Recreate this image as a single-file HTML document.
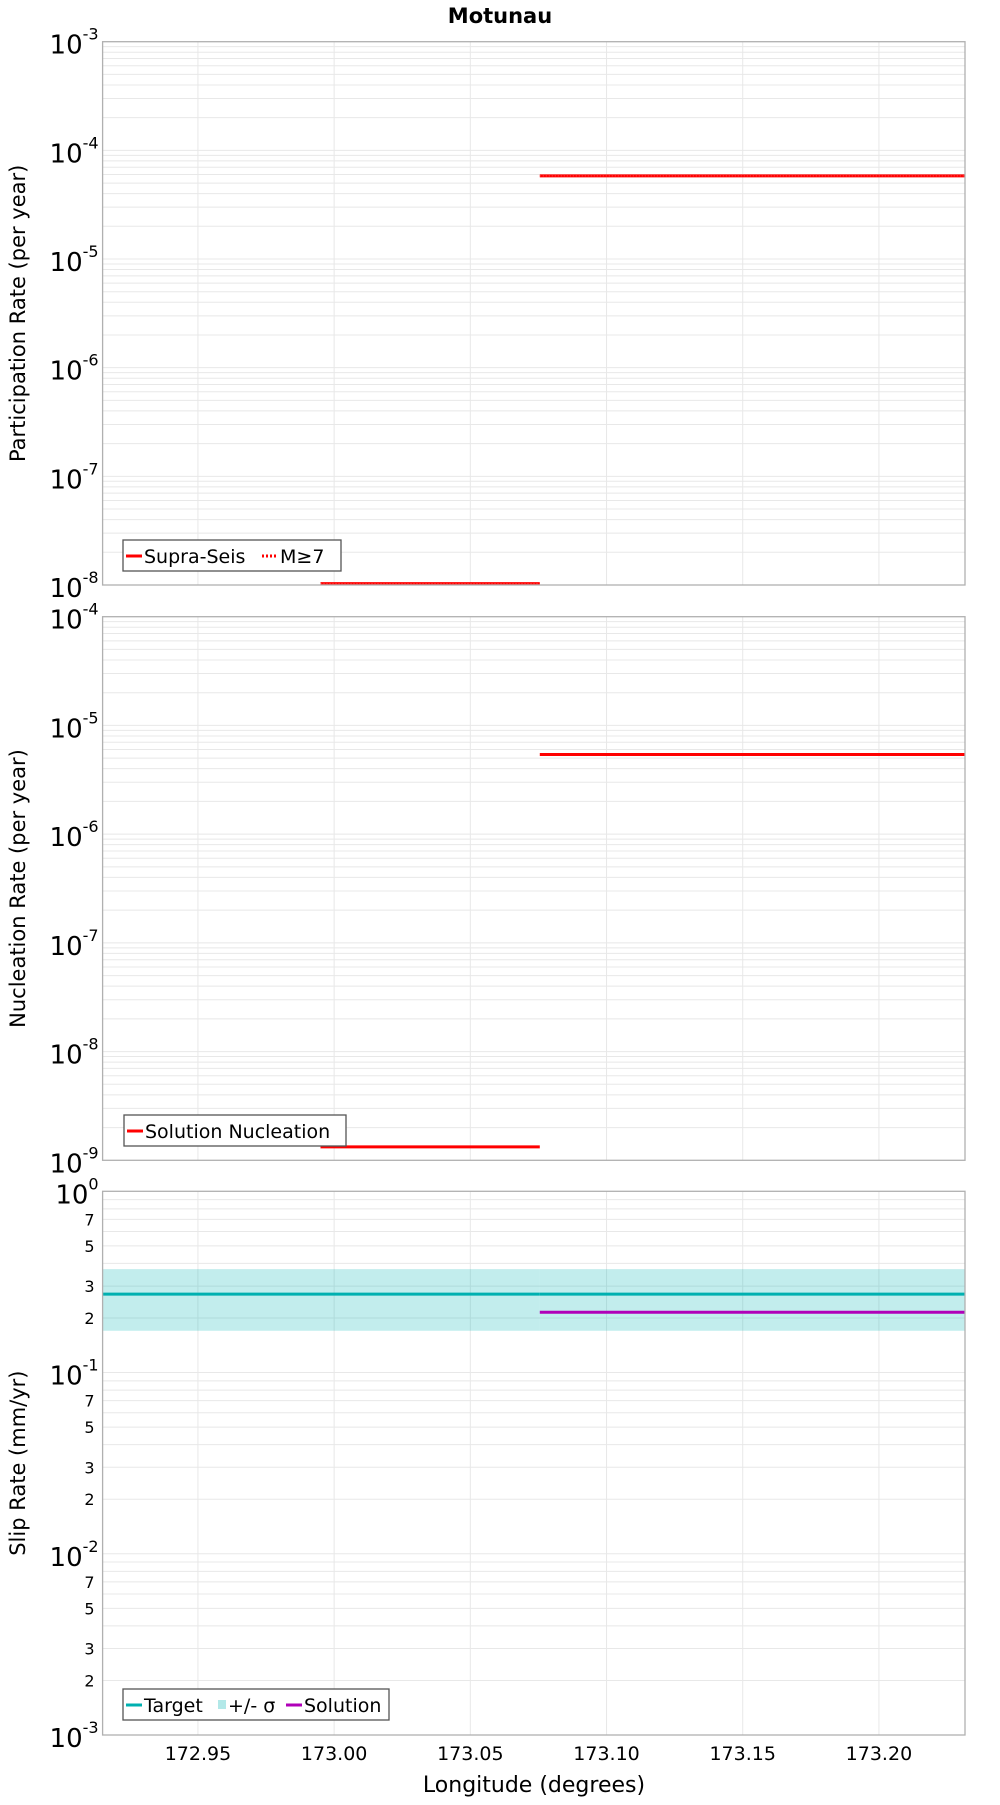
<!DOCTYPE html>
<html><head><meta charset="utf-8"><style>
body{margin:0;background:#fff;width:1000px;height:1800px;overflow:hidden}
svg{font-family:"DejaVu Sans","Liberation Sans",sans-serif}
</style></head><body>
<svg id="c" width="1000" height="1800" viewBox="0 0 1000 1800" xmlns="http://www.w3.org/2000/svg">
<text x="500" y="23" text-anchor="middle" font-size="21" font-weight="bold">Motunau</text>
</svg>
<script>
const xTicks=[172.95,173.00,173.05,173.10,173.15,173.20];
const xTickLabels=["172.95","173.00","173.05","173.10","173.15","173.20"];
const segStarts=[172.995,173.0755];
const segEnds=[173.0755,173.2316];
const participation=[1.03e-8,5.82e-5];
const nucleation=[1.33e-9,5.4e-6];
const slipTarget=[0.271,0.271];
const slipUpper=[0.372,0.372];
const slipLower=[0.170,0.170];
const slipSolution=[null,0.215];
const xMin=172.915,xMax=173.2316;
const L=102.6,R=965;
const NS='http://www.w3.org/2000/svg';
const svg=document.getElementById('c');
function el(t,a,p){const e=document.createElementNS(NS,t);for(const k in a)e.setAttribute(k,a[k]);(p||svg).appendChild(e);return e;}
function X(v){return L+(v-xMin)/(xMax-xMin)*(R-L);}
const panels=[
 {top:41.7,bot:585,hi:-3,lo:-8,title:'Participation Rate (per year)',name:'participation'},
 {top:616.7,bot:1160.3,hi:-4,lo:-9,title:'Nucleation Rate (per year)',name:'nucleation'},
 {top:1191.3,bot:1735,hi:0,lo:-3,title:'Slip Rate (mm/yr)',name:'slip'}];
function mkY(p){return v=>p.top+(p.hi-Math.log10(v))/(p.hi-p.lo)*(p.bot-p.top);}
panels.forEach((p,pi)=>{
 const Y=mkY(p);
 const g=el('g',{});
 
 
 for(let d=p.lo;d<p.hi;d++){for(let m=1;m<10;m++){const v=m*Math.pow(10,d);if(m>1||d>p.lo){const y=Y(v);const ln=el('line',{x1:L,x2:R,y1:y,y2:y,stroke:'#e8e8e8','stroke-width':1},g);}}}
 xTicks.forEach(t=>{const ln=el('line',{x1:X(t),x2:X(t),y1:p.top,y2:p.bot,stroke:'#e8e8e8','stroke-width':1},g);});
 for(let d=p.lo;d<=p.hi;d++){const y=Y(Math.pow(10,d));const t=el('text',{x:L-4,y:y+12,'text-anchor':'end','font-size':26},g);
  t.innerHTML='10<tspan dy="-14" font-size="16">'+d+'</tspan>';}
 if(p.name==='slip'){for(let d=p.lo;d<p.hi;d++){[2,3,5,7].forEach(m=>{const y=Y(m*Math.pow(10,d));const t=el('text',{x:L-8,y:y+6,'text-anchor':'end','font-size':16},g);t.textContent=m;});}}
 const yt=el('text',{x:0,y:0,'text-anchor':'middle','font-size':21,transform:'translate(25,'+((p.top+p.bot)/2)+') rotate(-90)'},g);
 yt.textContent=p.title;
 p.Y=Y;p.g=g;
});
(function(){const p=panels[0];participation.forEach((v,i)=>{
 const a=el('line',{x1:X(segStarts[i]),x2:X(segEnds[i]),y1:p.Y(v),y2:p.Y(v),stroke:'#ff0000','stroke-width':3},p.g);
 const b=el('line',{x1:X(segStarts[i]),x2:X(segEnds[i]),y1:p.Y(v),y2:p.Y(v),stroke:'#ff5050','stroke-width':1,'stroke-dasharray':'1,2'},p.g);});})();
(function(){const p=panels[1];nucleation.forEach((v,i)=>{
 const a=el('line',{x1:X(segStarts[i]),x2:X(segEnds[i]),y1:p.Y(v),y2:p.Y(v),stroke:'#ff0000','stroke-width':3},p.g);});})();
(function(){const p=panels[2];
 slipUpper.forEach((v,i)=>{const x1=i===0?xMin:segStarts[i],x2=segEnds[i];const r=el('rect',{x:X(x1),y:p.Y(v),width:X(x2)-X(x1),height:p.Y(slipLower[i])-p.Y(v),fill:'#00b3b3','fill-opacity':0.24},p.g);});
 slipTarget.forEach((v,i)=>{const x1=i===0?xMin:segStarts[i];const a=el('line',{x1:X(x1),x2:X(segEnds[i]),y1:p.Y(v),y2:p.Y(v),stroke:'#00b0b0','stroke-width':3},p.g);});
 slipSolution.forEach((v,i)=>{if(v==null)return;const a=el('line',{x1:X(segStarts[i]),x2:X(segEnds[i]),y1:p.Y(v),y2:p.Y(v),stroke:'#b000b8','stroke-width':3},p.g);});
})();
panels.forEach(p=>{const r=el('rect',{x:L,y:p.top,width:R-L,height:p.bot-p.top,fill:'none',stroke:'#b0b0b0','stroke-width':1.3});});
xTicks.forEach((t,i)=>{const tx=el('text',{x:X(t),y:1760,'text-anchor':'middle','font-size':19});tx.textContent=xTickLabels[i];});
const xt=el('text',{x:534,y:1792,'text-anchor':'middle','font-size':22});xt.textContent='Longitude (degrees)';
function legend(x,y,w,items,name){const g=el('g',{});
 const r=el('rect',{x:x,y:y,width:w,height:31,fill:'#fff',stroke:'#555','stroke-width':1.3},g);
 let cx=x+3;items.forEach(it=>{let s;if(it.band){s=el('rect',{x:cx+2,y:y+11,width:8,height:9,fill:it.c,'fill-opacity':0.3},g);cx+=12;}else{s=el('line',{x1:cx,x2:cx+16,y1:y+16,y2:y+16,stroke:it.c,'stroke-width':3,'stroke-dasharray':it.dash||''},g);cx+=18;}
 
 const t=el('text',{x:cx,y:y+23,'font-size':19},g);t.textContent=it.t;cx+=it.w;});}
legend(123,540,218,[{c:'#ff0000',t:'Supra-Seis',w:118},{c:'#ff0000',t:'M≥7',dash:'2,2',w:40}],'participation-legend');
legend(124,1115,222,[{c:'#ff0000',t:'Solution Nucleation',w:200}],'nucleation-legend');
legend(123,1689,266,[{c:'#00b0b0',t:'Target',w:72},{c:'#00b3b3',t:'+/- σ',band:true,w:58},{c:'#b000b8',t:'Solution',w:90}],'slip-legend');
</script>
</body></html>
